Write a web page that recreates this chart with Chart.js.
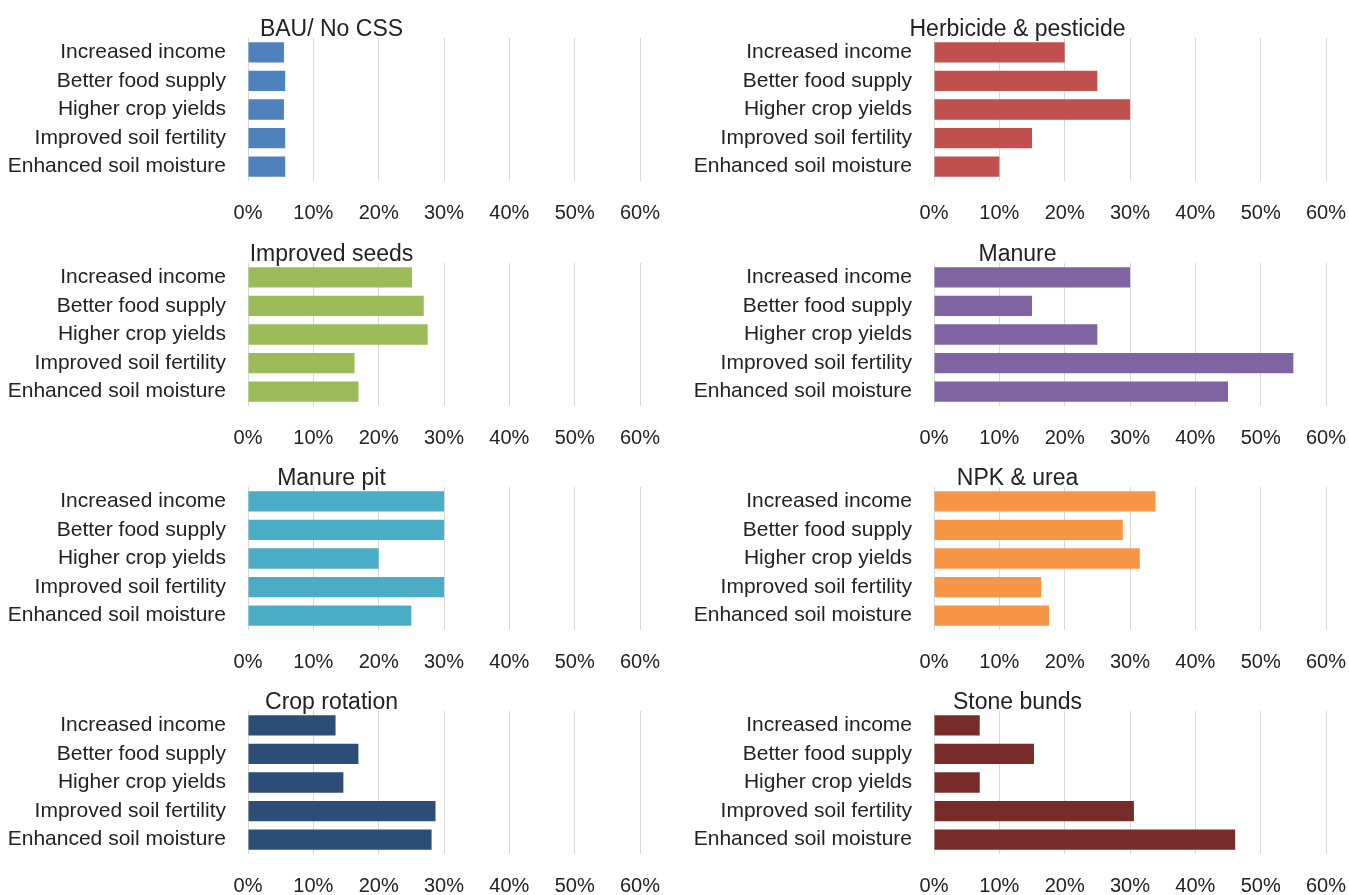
<!DOCTYPE html>
<html>
<head>
<meta charset="utf-8">
<script src="https://cdn.jsdelivr.net/npm/chart.js@4/dist/chart.umd.min.js"></script>
<style>
  html, body { margin: 0; padding: 0; background: #fff; overflow: hidden; }
  #wrap { position: relative; width: 1349px; height: 895px; }
  canvas { position: absolute; }
</style>
</head>
<body>
<div id="wrap"></div>
<script>
// Data
const categories = [
  'Increased income',
  'Better food supply',
  'Higher crop yields',
  'Improved soil fertility',
  'Enhanced soil moisture'
];
const bau          = [5.5, 5.7, 5.5, 5.7, 5.7];
const herbicide    = [20, 25, 30, 15, 10];
const seeds        = [25.1, 26.9, 27.5, 16.3, 16.9];
const manure       = [30, 15, 25, 55, 45];
const manurePit    = [30, 30, 20, 30, 25];
const npk          = [33.9, 28.9, 31.5, 16.4, 17.6];
const cropRotation = [13.4, 16.9, 14.6, 28.7, 28.1];
const stoneBunds   = [7.0, 15.3, 7.0, 30.6, 46.1];
const xMax = 60, xStep = 10; // ticks 0% .. 60%

const panels = [
  { title: 'BAU/ No CSS',           data: bau,          color: '#4F81BD' },
  { title: 'Herbicide & pesticide', data: herbicide,    color: '#C0504D' },
  { title: 'Improved seeds',        data: seeds,        color: '#9BBB59' },
  { title: 'Manure',                data: manure,       color: '#8064A2' },
  { title: 'Manure pit',            data: manurePit,    color: '#4BACC6' },
  { title: 'NPK & urea',            data: npk,          color: '#F79646' },
  { title: 'Crop rotation',         data: cropRotation, color: '#2C4D75' },
  { title: 'Stone bunds',           data: stoneBunds,   color: '#772C2A' }
];

const font = "'Liberation Sans', Arial, sans-serif";
const rowTops = [0, 225, 449, 673];
const colLefts = [0, 686];
const wrap = document.getElementById('wrap');

panels.forEach((p, i) => {
  const c = document.createElement('canvas');
  c.width = 663;
  c.height = 225;
  c.style.left = colLefts[i % 2] + 'px';
  c.style.top = rowTops[Math.floor(i / 2)] + 'px';
  wrap.appendChild(c);

  new Chart(c, {
    type: 'bar',
    data: {
      labels: categories,
      datasets: [{
        data: p.data,
        backgroundColor: p.color,
        categoryPercentage: 1,
        barPercentage: 0.71
      }]
    },
    options: {
      indexAxis: 'y',
      responsive: false,
      animation: false,
      layout: { padding: 0 },
      plugins: {
        legend: { display: false },
        tooltip: { enabled: false },
        title: {
          display: true,
          text: p.title,
          color: '#222',
          font: { family: font, size: 23, weight: 'normal', lineHeight: 1 },
          padding: { top: 18, bottom: -3 }
        }
      },
      scales: {
        x: {
          min: 0,
          max: xMax,
          // room on the right for the "60%" label
          afterFit: s => { s.height = 44; s.paddingLeft = 0; s.paddingRight = 23; },
          ticks: {
            stepSize: xStep,
            padding: 20,
            color: '#222',
            font: { family: font, size: 20 },
            callback: v => v + '%'
          },
          grid: { color: '#d9d9d9', drawTicks: false },
          border: { display: false }
        },
        y: {
          afterFit: s => { s.width = 248; s.paddingTop = 0; s.paddingBottom = 0; },
          ticks: {
            autoSkip: false,
            padding: 22,
            color: '#222',
            font: { family: font, size: 21 }
          },
          grid: { display: false, drawTicks: false },
          border: { display: false }
        }
      }
    }
  });
});
</script>
</body>
</html>
